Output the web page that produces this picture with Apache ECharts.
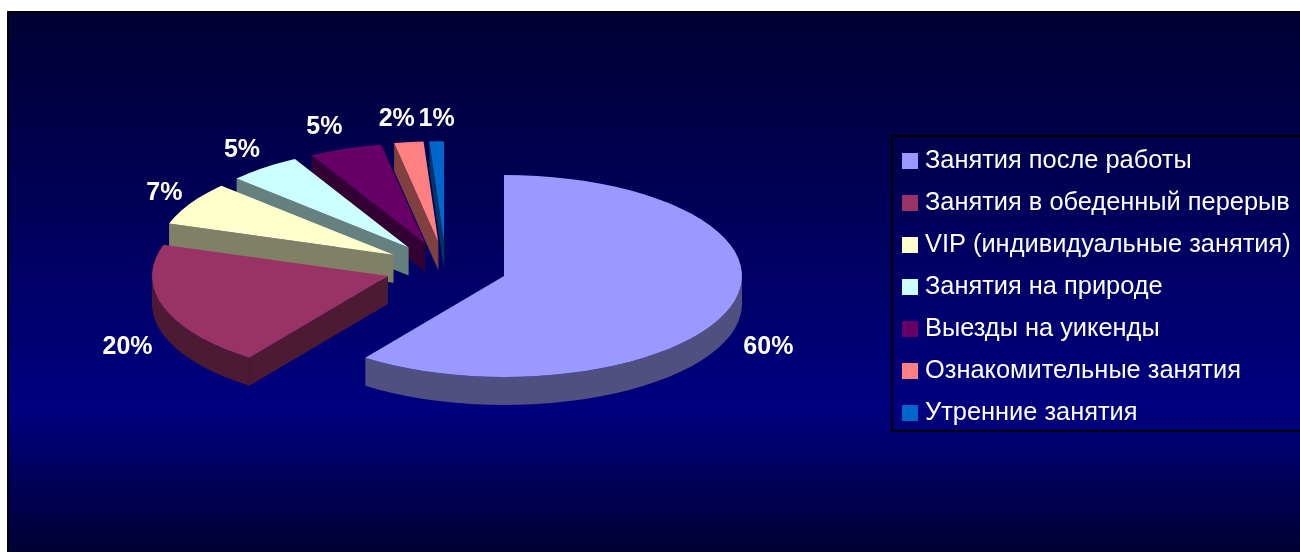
<!DOCTYPE html>
<html>
<head>
<meta charset="utf-8">
<style>html,body{margin:0;padding:0;background:#fff}#chart{width:1300px;height:552px}</style>
<script src="https://cdn.jsdelivr.net/npm/echarts@6/dist/echarts.min.js"></script>
</head>
<body>
<div id="chart"></div>
<script>
const categories = ['Занятия после работы','Занятия в обеденный перерыв','VIP (индивидуальные занятия)','Занятия на природе','Выезды на уикенды','Ознакомительные занятия','Утренние занятия'];
const shares = [60,20,7,5,5,2,1];
const topColors = ['#9999ff','#993366','#ffffcc','#ccffff','#660066','#ff8080','#0066cc'];
const sideColors = ['#4f4f80','#4d1a33','#808066','#668080','#330033','#804040','#003366'];
// label nudges away from the rim of each slice
const labelNudge = [[38,40],[-36,40],[-26,-10],[-22,-18],[-21,-22],[-12,-23],[0,-22]];

// Tilted pie geometry; the far-left half of the rim is foreshortened slightly
const pie = {cx:446, cy:268, rxRight:238, rxLeft:236, ry:101, depth:28, explode:61};
const total = shares.reduce((a,b)=>a+b,0);
const rad = d => d*Math.PI/180;
const rim = (deg) => {
  const s = Math.sin(rad(deg));
  return [(s<0?pie.rxLeft:pie.rxRight)*s, -pie.ry*Math.cos(rad(deg))];
};

function sliceShapes(i, api){
  const start = shares.slice(0,i).reduce((a,b)=>a+b,0)/total*360;
  const end = start + shares[i]/total*360;
  const mid = (start+end)/2;
  const ax = pie.cx + pie.explode*Math.sin(rad(mid));
  const ay = pie.cy - pie.explode*pie.ry/pie.rxRight*Math.cos(rad(mid));
  const pt = d => { const r = rim(d); return [ax+r[0], ay+r[1]]; };
  const STEP = 4;
  const arc = [];
  for(let d=start; d<end; d+=STEP) arc.push(pt(d));
  arc.push(pt(end));
  const drop = p => [p[0],p[1]+pie.depth];
  const kids = [];
  const side = pts => kids.push({type:'polygon',shape:{points:pts},style:{fill:sideColors[i]}});
  // rim wall for the part of the arc facing the viewer
  const front = arc.filter((p,k)=>{ const d=Math.min(start+k*STEP,end); return d>=90&&d<=270; });
  const inFront = [];
  if(start<90&&end>90) inFront.push(pt(90));
  front.forEach(p=>inFront.push(p));
  if(start<270&&end>270) inFront.push(pt(270));
  if(inFront.length>1) side(inFront.concat(inFront.slice().reverse().map(drop)));
  // radial wall on the starting edge when it turns towards the viewer
  if(start>180){
    const s = pt(start);
    side([[ax,ay],s,drop(s),[ax,ay+pie.depth]]);
  }
  kids.push({type:'polygon',shape:{points:[[ax,ay]].concat(arc)},style:{fill:topColors[i]}});
  const m = pt(mid);
  kids.push({type:'text',style:{
    text:shares[i]+'%',x:m[0]+labelNudge[i][0],y:m[1]+labelNudge[i][1],
    fill:'#fff',font:'bold 25px "Liberation Sans",Arial,sans-serif',align:'center',verticalAlign:'middle'
  }});
  return {type:'group',children:kids};
}

const series = categories.map((name,i)=>({
  type:'custom',
  name,
  coordinateSystem:'none',
  z: i===0 ? 3 : 20-i,
  silent:true,
  itemStyle:{color:topColors[i]},
  data:[[shares[i]]],
  renderItem:(params,api)=>sliceShapes(i,api)
}));

const chart = echarts.init(document.getElementById('chart'),null,{renderer:'canvas'});
chart.setOption({
  animation:false,
  backgroundColor:'#ffffff',
  graphic:[{
    type:'rect',z:-10,
    shape:{x:8,y:12,width:1300,height:550},
    style:{
      stroke:'#000000',lineWidth:2,
      fill:new echarts.graphic.LinearGradient(0,0,0,1,[
        {offset:0,color:'#000033'},
        {offset:0.72,color:'#000080'},
        {offset:0.98,color:'#000033'}
      ])
    }
  }],
  legend:{
    orient:'vertical',left:892,top:136,
    data:categories,icon:'rect',
    itemWidth:16,itemHeight:16,itemGap:16,
    padding:[12,12,5,10],
    borderColor:'#000000',borderWidth:2,
    selectedMode:false,
    textStyle:{color:'#ffffff',fontSize:25.4,lineHeight:26,fontFamily:'"Liberation Sans",Arial,sans-serif',padding:[0,0,0,2]}
  },
  series
});
</script>
</body>
</html>
